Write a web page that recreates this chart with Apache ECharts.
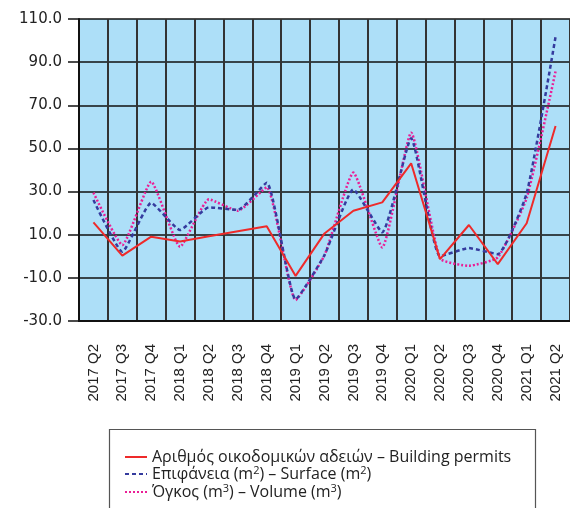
<!DOCTYPE html>
<html>
<head>
<meta charset="utf-8">
<script src="https://cdn.jsdelivr.net/npm/echarts@6/dist/echarts.min.js"></script>
<style>
html, body { margin: 0; padding: 0; background: #fff; }
#chart { width: 570px; height: 508px; }
</style>
</head>
<body>
<div id="chart"></div>
<script>
var categories = ['2017 Q2', '2017 Q3', '2017 Q4', '2018 Q1', '2018 Q2', '2018 Q3', '2018 Q4',
    '2019 Q1', '2019 Q2', '2019 Q3', '2019 Q4', '2020 Q1', '2020 Q2', '2020 Q3', '2020 Q4',
    '2021 Q1', '2021 Q2']
var permits = [15.7, 0.3, 9.1, 6.9, 9.3, 11.6, 13.9, -9.1, 10.6, 21.1, 25.0, 43.1, -1.3, 14.5, -3.6, 15.3, 60.4]
var surface = [26.1, 2.1, 24.8, 12.2, 22.7, 21.5, 34.1, -20.0, 0.6, 31.0, 11.1, 54.7, 0.0, 3.8, 1.0, 29.2, 101.8]
var volume = [29.5, 5.2, 34.6, 4.4, 26.4, 21.1, 32.0, -20.3, 0.5, 38.8, 4.1, 57.3, -1.0, -4.4, -0.5, 27.0, 85.7]
var seriesNames = ['permits', 'surface', 'volume']
// legend texts with superscripts (rich text)
var legendTexts = {
    permits: '{t|Αριθμός οικοδομικών αδειών – Building permits}',
    surface: '{t|Επιφάνεια (m}{s|2}{t|) – Surface (m}{s|2}{t|)}',
    volume: '{t|Όγκος (m}{s|3}{t|) – Volume (m}{s|3}{t|)}'
}

var chart = echarts.init(document.getElementById('chart'))
var options = {
    animation: false,
    grid: {
        left: 79,
        top: 19,
        right: 0,
        bottom: 187,
        show: true,
        backgroundColor: '#addff8',
        borderWidth: 0
    },
    graphic: [{
        type: 'rect',
        shape: { x: 109.5, y: 429.5, width: 426, height: 100 },
        style: { fill: 'none', stroke: '#555', lineWidth: 1.2 }
    }],
    legend: {
        orient: 'vertical',
        left: 119,
        top: 444,
        itemWidth: 22,
        itemHeight: 12,
        itemGap: 0,
        data: seriesNames,
        itemStyle: { color: 'rgba(0,0,0,0)', borderWidth: 0 },
        formatter: function(name) {
            return legendTexts[name]
        },
        textStyle: {
            rich: {
                t: { fontFamily: 'Open Sans', fontSize: 16, color: '#222', lineHeight: 17 },
                s: { fontFamily: 'Open Sans', fontSize: 11, color: '#222', lineHeight: 17, padding: [0, 0, 7, 0] }
            }
        }
    },
    xAxis: {
        type: 'category',
        data: categories,
        boundaryGap: true,
        axisLine: { onZero: false, lineStyle: { color: '#111', width: 2 } },
        axisTick: { show: false },
        splitLine: { show: true, lineStyle: { color: '#333', width: 2 } },
        axisLabel: {
            rotate: 90,
            margin: 23,
            interval: 0,
            fontFamily: 'Liberation Sans',
            fontSize: 15,
            color: '#222'
        }
    },
    yAxis: {
        type: 'value',
        min: -30,
        max: 110,
        interval: 20,
        axisLine: { show: true, lineStyle: { color: '#111', width: 2 } },
        axisTick: { show: true, length: 11, lineStyle: { color: '#111', width: 1.5 } },
        splitLine: { show: true, lineStyle: { color: '#111', width: 1.5 } },
        axisLabel: {
            margin: 17,
            fontFamily: 'DejaVu Sans',
            fontSize: 15,
            color: '#222',
            formatter: function(v) { return v.toFixed(1) }
        }
    },
    series: [{
        name: 'permits',
        type: 'line',
        data: permits,
        symbol: 'none',
        lineStyle: { color: '#ee2a2a', width: 2 },
        itemStyle: { color: '#ee2a2a' },
        z: 4
    }, {
        name: 'surface',
        type: 'line',
        data: surface,
        symbol: 'none',
        smooth: 0.15,
        lineStyle: { color: '#353b9e', width: 2.5, type: [4, 3] },
        itemStyle: { color: '#353b9e' },
        z: 3
    }, {
        name: 'volume',
        type: 'line',
        data: volume,
        symbol: 'none',
        smooth: 0.15,
        lineStyle: { color: '#ea1f96', width: 2.5, type: [2, 2] },
        itemStyle: { color: '#ea1f96' },
        z: 2
    }]
}
chart.setOption(options)
</script>
</body>
</html>
